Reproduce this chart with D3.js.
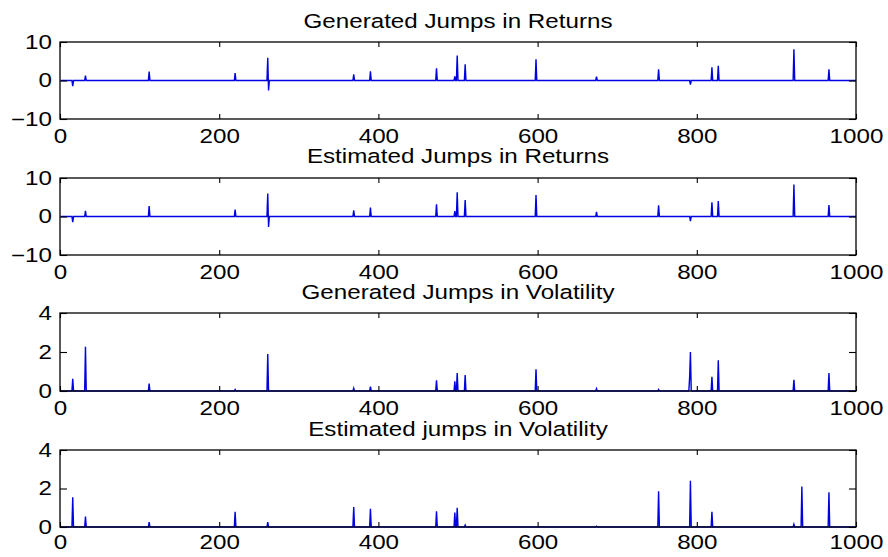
<!DOCTYPE html>
<html>
<head>
<meta charset="utf-8">
<script src="https://cdn.jsdelivr.net/npm/d3@7"></script>
<style>
  body { margin: 0; background: #fff; }
  text { font-family: "Liberation Sans", Arial, Helvetica, sans-serif; fill: #000; }
</style>
</head>
<body>
<svg></svg>
<script>
// Panel titles
const titles = [
  "Generated Jumps in Returns",
  "Estimated Jumps in Returns",
  "Generated Jumps in Volatility",
  "Estimated jumps in Volatility"
];

// x axis ticks (time index 1..1000)
const xTicks = [0, 200, 400, 600, 800, 1000];
const returnTicks = [-10, 0, 10];
const volTicks = [0, 2, 4];

// Jump times and sizes (series is zero elsewhere)
const genRetT = [16, 32, 112, 220, 261, 262, 369, 390, 473, 496, 499, 509, 598, 674, 752, 792, 819, 827, 922, 966];
const genRetV = [-1.5, 1.3, 2.3, 1.9, 5.9, -2.6, 1.6, 2.4, 3.2, 1.1, 6.5, 4.2, 5.5, 1.0, 2.9, -1.1, 3.4, 3.8, 8.1, 2.9];

const estRetT = [16, 32, 112, 220, 261, 262, 369, 390, 473, 496, 499, 509, 598, 674, 752, 792, 819, 827, 922, 966];
const estRetV = [-1.5, 1.5, 2.7, 1.8, 6.0, -2.7, 1.6, 2.3, 3.2, 1.4, 6.3, 4.3, 5.6, 1.2, 2.9, -1.2, 3.7, 4.0, 8.3, 3.0];

const genVolT = [16, 32, 112, 220, 261, 369, 390, 473, 496, 499, 509, 598, 674, 752, 791, 792, 819, 827, 922, 966];
const genVolV = [0.63, 2.27, 0.38, 0.08, 1.9, 0.14, 0.22, 0.55, 0.5, 0.92, 0.82, 1.11, 0.12, 0.08, 0.7, 2.0, 0.73, 1.57, 0.58, 0.92];

const estVolT = [16, 32, 112, 220, 261, 369, 390, 473, 496, 499, 509, 674, 752, 792, 819, 922, 932, 966];
const estVolV = [1.54, 0.54, 0.26, 0.79, 0.26, 1.04, 0.95, 0.82, 0.75, 1.0, 0.1, 0.04, 1.86, 2.4, 0.79, 0.14, 2.1, 1.8];

const N = 1000;

// turn (times, values) into a full series of N points
function makeSeries(times, values) {
  const s = [];
  for (let i = 1; i <= N; i++) s.push({ t: i, v: 0 });
  times.forEach((t, k) => { s[t - 1].v = values[k]; });
  return s;
}

const panels = [
  { title: titles[0], data: makeSeries(genRetT, genRetV), domain: [-10, 10], ticks: returnTicks, top: 42, bottom: 119, titleGap: 14, pad: 10 },
  { title: titles[1], data: makeSeries(estRetT, estRetV), domain: [-10, 10], ticks: returnTicks, top: 178, bottom: 255, titleGap: 15, pad: 10 },
  { title: titles[2], data: makeSeries(genVolT, genVolV), domain: [0, 4], ticks: volTicks, top: 313, bottom: 391, titleGap: 14, pad: 10 },
  { title: titles[3], data: makeSeries(estVolT, estVolV), domain: [0, 4], ticks: volTicks, top: 450, bottom: 527, titleGap: 14, pad: 8 }
];

const width = 888, height = 557;
const svg = d3.select("svg").attr("width", width).attr("height", height);

const left = 60, right = 856;
const x = d3.scaleLinear().domain([0, 1000]).range([left, right]);
const stretch = "scale(1.24,1)";
const fontSize = "19.5px";
const fmt = d3.format("d");

panels.forEach(p => {
  const y = d3.scaleLinear().domain(p.domain).range([p.bottom, p.top]);
  const g = svg.append("g");

  // the series
  const line = d3.line().x(d => x(d.t)).y(d => y(d.v));
  g.append("path")
    .datum(p.data)
    .attr("fill", "none")
    .attr("stroke", "#0000e0")
    .attr("stroke-width", 1.4)
    .attr("d", line);

  // axes with inward ticks (box style)
  const bottomAxis = g.append("g")
    .attr("transform", `translate(0,${p.bottom})`)
    .call(d3.axisBottom(x).tickValues(xTicks).tickSize(-5).tickPadding(p.pad).tickFormat(fmt));
  g.append("g")
    .attr("transform", `translate(0,${p.top})`)
    .call(d3.axisTop(x).tickValues(xTicks).tickSize(-5).tickFormat(""));
  const leftAxis = g.append("g")
    .attr("transform", `translate(${left},0)`)
    .call(d3.axisLeft(y).tickValues(p.ticks).tickSize(-7).tickPadding(6.5).tickFormat(fmt));
  g.append("g")
    .attr("transform", `translate(${right},0)`)
    .call(d3.axisRight(y).tickValues(p.ticks).tickSize(-7).tickFormat(""));

  g.selectAll(".domain").remove();
  g.selectAll(".tick line").attr("stroke", "#000").attr("stroke-width", 1.1);
  [bottomAxis, leftAxis].forEach(a => a.selectAll("text")
    .style("font-size", fontSize)
    .attr("fill", "#000")
    .attr("transform", stretch));

  // box
  g.append("rect")
    .attr("x", left).attr("y", p.top)
    .attr("width", right - left).attr("height", p.bottom - p.top)
    .attr("fill", "none")
    .attr("stroke", "#000")
    .attr("stroke-width", 1.3);

  // title
  g.append("text")
    .attr("transform", `translate(${(left + right) / 2},${p.top - p.titleGap}) ${stretch}`)
    .attr("text-anchor", "middle")
    .style("font-size", fontSize)
    .text(p.title);
});
</script>
</body>
</html>
